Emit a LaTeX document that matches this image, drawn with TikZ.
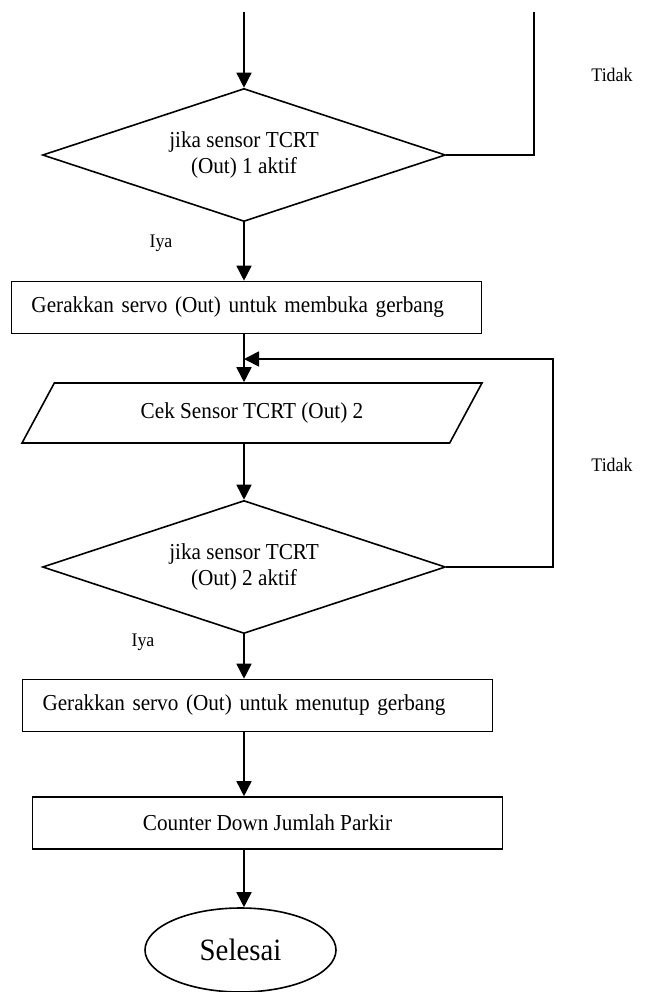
\documentclass[tikz,border=0pt]{standalone}
\usepackage{fontspec}
\setmainfont[FakeStretch=0.93]{Liberation Serif}
\usetikzlibrary{arrows.meta,positioning,shapes.geometric}
\tikzset{
  txt/.style={font=\fontsize{11.4}{13}\selectfont},
  dec/.style={draw,diamond,aspect=3,inner sep=0pt,line width=0.8pt,align=center,txt,
              minimum width=201.5pt,minimum height=66.5pt},
  proc/.style={draw,rectangle,line width=0.8pt,txt,inner xsep=10pt,inner ysep=0pt,
               minimum width=235pt,minimum height=26pt,align=center},
  lproc/.style={proc,text width=215pt,align=left},
  io/.style={draw,trapezium,trapezium left angle=32.6,trapezium right angle=147.4,
             trapezium stretches body,line width=0.8pt,txt,inner sep=0pt,
             minimum width=230pt,minimum height=30pt},
  term/.style={draw,ellipse,line width=0.8pt,inner sep=0pt,
               minimum width=95.5pt,minimum height=42pt,font=\fontsize{15.5}{18}\selectfont},
  arr/.style={-{Triangle[length=7.5pt,width=7.5pt]},line width=0.8pt},
  conn/.style={line width=0.8pt},
  lbl/.style={font=\fontsize{9.6}{11}\selectfont,inner sep=0pt}
}

\begin{document}
\begin{tikzpicture}[x=0.5pt,y=-0.5pt]
  \useasboundingbox (0,0) rectangle (650,992);
  \coordinate (mulai) at (244,12);
  \coordinate (atas) at (534,12);
  \node[dec] (tanya1) at (244,155) {jika sensor TCRT\\(Out) 1 aktif};
  \node[lproc] (buka) at (246.5,307.5) {Gerakkan servo (Out) untuk membuka gerbang};
  \node[io] (cek2) at (252,413) {Cek Sensor TCRT (Out) 2};
  \node[dec] (tanya2) at (244,567) {jika sensor TCRT\\(Out) 2 aktif};
  \node[lproc] (tutup) at (257.5,705.5) {Gerakkan servo (Out) untuk menutup gerbang};
  \node[proc] (hitung) at (267.5,823) {Counter Down Jumlah Parkir};
  \node[term] (selesai) at (240.5,950) {Selesai};
  \coordinate (lp) at (553,359);
  \node[lbl] (tidak1) at (612,75) {Tidak};
  \node[lbl] (iya1) at (161,243) {Iya};
  \node[lbl] (tidak2) at (612,465) {Tidak};
  \node[lbl] (iya2) at (143,642) {Iya};
  \draw[arr] (mulai) -- (tanya1.north);
  \draw[conn] (tanya1.east) -| (atas);
  \draw[arr] (tanya1.south) -- (tanya1.south |- buka.north);
  \draw[arr] (buka.south -| mulai) -- (cek2.north -| mulai);
  \draw[arr] (cek2.south -| mulai) -- (tanya2.north);
  \draw[arr] (tanya2.east) -| (lp) -- (lp -| mulai);
  \draw[arr] (tanya2.south) -- (tanya2.south |- tutup.north);
  \draw[arr] (tutup.south -| mulai) -- (hitung.north -| mulai);
  \draw[arr] (hitung.south -| mulai) -- (selesai.north -| mulai);
\end{tikzpicture}
\end{document}
